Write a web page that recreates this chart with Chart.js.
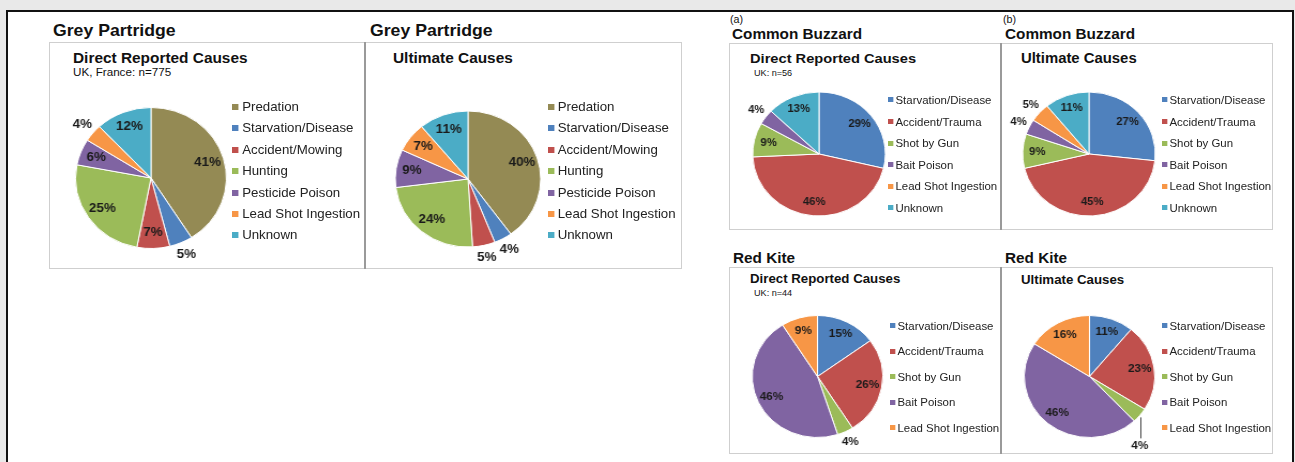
<!DOCTYPE html>
<html>
<head>
<meta charset="utf-8">
<script src="https://cdn.jsdelivr.net/npm/chart.js@4.4.1/dist/chart.umd.min.js"></script>
<style>
  body { margin: 0; width: 1295px; height: 462px; overflow: hidden; position: relative;
         background: #e9e9e9; font-family: "Liberation Sans", Arial, sans-serif; }
  #sheet { position: absolute; left: 6px; top: 10px; width: 1284px; height: 470px;
           background: #fff; border: 2px solid #111; }
  .box { position: absolute; border: 1px solid #cfcfcf; box-sizing: border-box; }
  .sep { position: absolute; width: 2px; background: #9a9a9a; }
  .t { position: absolute; line-height: 1; white-space: nowrap; color: #111;
       transform: scaleX(1.07); transform-origin: 0 0; }
  .row { position: absolute; display: flex; align-items: center; white-space: nowrap; color: #222;
         transform: scaleX(1.07); transform-origin: 0 50%; }
  .row i { display: inline-block; flex: none; }
  .pie { position: absolute; transform: scaleX(1.07); }
</style>
</head>
<body>
<div id="sheet"></div>
<div class="box" style="left:49px;top:42px;width:317px;height:227px"></div>
<div class="box" style="left:365px;top:42px;width:317px;height:227px"></div>
<div class="box" style="left:729px;top:43px;width:273px;height:187px"></div>
<div class="box" style="left:1001px;top:43px;width:272px;height:187px"></div>
<div class="box" style="left:729px;top:267px;width:273px;height:187px"></div>
<div class="box" style="left:1001px;top:267px;width:272px;height:187px"></div>
<div class="sep" style="left:364px;top:42px;height:227px"></div>
<div class="sep" style="left:1000px;top:43px;height:187px"></div>
<div class="sep" style="left:1000px;top:267px;height:187px"></div>

<script>
// Grey Partridge
const partridgeLabels = ['Predation', 'Starvation/Disease', 'Accident/Mowing', 'Hunting',
                         'Pesticide Poison', 'Lead Shot Ingestion', 'Unknown'];
const partridgeDirect = [41, 5, 7, 25, 6, 4, 12];
const partridgeUltimate = [40, 4, 5, 24, 9, 7, 11];

// Common Buzzard
const buzzardLabels = ['Starvation/Disease', 'Accident/Trauma', 'Shot by Gun', 'Bait Poison',
                       'Lead Shot Ingestion', 'Unknown'];
const buzzardDirect = [29, 46, 9, 4, 0, 13];
const buzzardUltimate = [27, 45, 9, 4, 5, 11];

// Red Kite
const kiteLabels = ['Starvation/Disease', 'Accident/Trauma', 'Shot by Gun', 'Bait Poison',
                    'Lead Shot Ingestion'];
const kiteDirect = [15, 26, 4, 46, 9];
const kiteUltimate = [11, 23, 4, 46, 16];

const partridgeColors = ['#948a54', '#4f81bd', '#c0504d', '#9bbb59', '#8064a2', '#f79646', '#4bacc6'];
const raptorColors = ['#4f81bd', '#c0504d', '#9bbb59', '#8064a2', '#f79646', '#4bacc6'];

const FONT = '"Liberation Sans", Arial, sans-serif';

// text placed by its baseline
function txt(s, x, base, size, bold) {
  const d = document.createElement('div');
  d.className = 't';
  d.textContent = s;
  d.style.left = x + 'px';
  d.style.top = (base - 0.8465 * size) + 'px';
  d.style.fontSize = size + 'px';
  if (bold) d.style.fontWeight = 'bold';
  document.body.appendChild(d);
}

function legend(labels, colors, x, y0, step, size, sq, gap) {
  labels.forEach((lab, i) => {
    const r = document.createElement('div');
    r.className = 'row';
    r.style.left = x + 'px';
    r.style.top = (y0 + i * step - size * 0.6) + 'px';
    r.style.height = (size * 1.2) + 'px';
    r.style.fontSize = size + 'px';
    r.innerHTML = '<i style="width:' + sq + 'px;height:' + sq + 'px;margin-right:' + gap +
                  'px;background:' + colors[i] + '"></i>';
    r.appendChild(document.createTextNode(lab));
    document.body.appendChild(r);
  });
}

// percentage labels, small slices go outside
const pieLabels = {
  id: 'pieLabels',
  afterDatasetsDraw(chart, args, opts) {
    const ctx = chart.ctx;
    const data = chart.data.datasets[0].data;
    chart.getDatasetMeta(0).data.forEach((arc, i) => {
      const v = data[i];
      if (!v) return;
      const p = arc.getProps(['x', 'y', 'startAngle', 'endAngle', 'outerRadius']);
      const mid = (p.startAngle + p.endAngle) / 2;
      const r = p.outerRadius;
      ctx.save();
      ctx.font = 'bold ' + opts.size + 'px ' + FONT;
      ctx.fillStyle = '#1a1a1a';
      ctx.textAlign = 'center';
      ctx.textBaseline = 'middle';
      if (i === opts.leader) {
        const ex = p.x + Math.cos(mid) * r, ey = p.y + Math.sin(mid) * r;
        ctx.strokeStyle = '#444';
        ctx.lineWidth = 1;
        ctx.beginPath();
        ctx.moveTo(Math.round(ex) + 0.5, ey + 2);
        ctx.lineTo(Math.round(ex) + 0.5, ey + 23);
        ctx.stroke();
        ctx.fillText(v + '%', ex, ey + 31);
      } else {
        const f = v <= 5 ? 1.18 : 0.78;
        ctx.fillText(v + '%', p.x + Math.cos(mid) * r * f, p.y + Math.sin(mid) * r * f);
      }
      ctx.restore();
    });
  }
};

function pie(labels, values, colors, cx, cy, r, size, leader) {
  const S = Math.round(r * 3);
  const wrap = document.createElement('div');
  wrap.className = 'pie';
  wrap.style.left = (cx - S / 2) + 'px';
  wrap.style.top = (cy - S / 2) + 'px';
  wrap.style.width = S + 'px';
  wrap.style.height = S + 'px';
  const cv = document.createElement('canvas');
  cv.width = S;
  cv.height = S;
  wrap.appendChild(cv);
  document.body.appendChild(wrap);
  new Chart(cv, {
    type: 'pie',
    data: {
      labels: labels,
      datasets: [{ data: values, backgroundColor: colors, borderColor: '#fff', borderWidth: 1 }]
    },
    options: {
      responsive: false,
      animation: false,
      events: [],
      radius: r,
      plugins: {
        legend: { display: false },
        tooltip: { enabled: false },
        pieLabels: { size: size, leader: leader }
      }
    },
    plugins: [pieLabels]
  });
}

// headings
txt('Grey Partridge', 53, 36, 16.5, true);
txt('Grey Partridge', 370, 36, 16.5, true);
txt('Direct Reported Causes', 73, 63, 14.4, true);
txt('UK, France: n=775', 73, 76, 10.9, false);
txt('Ultimate Causes', 393, 63, 14.4, true);

txt('(a)', 730, 23, 10, false);
txt('(b)', 1003, 23, 10, false);
txt('Common Buzzard', 732, 39, 14.3, true);
txt('Common Buzzard', 1005, 39, 14.3, true);
txt('Direct Reported Causes', 750, 64, 13.7, true);
txt('UK: n=56', 754, 76, 8.5, false);
txt('Ultimate Causes', 1021, 64, 13.9, true);

txt('Red Kite', 733, 263, 14.3, true);
txt('Red Kite', 1005, 263, 14.3, true);
txt('Direct Reported Causes', 750, 283, 12.4, true);
txt('UK: n=44', 754, 296, 8.5, false);
txt('Ultimate Causes', 1021, 284, 12.4, true);

// pies
pie(partridgeLabels, partridgeDirect, partridgeColors, 151, 178, 70.5, 12.5, -1);
pie(partridgeLabels, partridgeUltimate, partridgeColors, 467.5, 179, 68, 12.5, -1);
pie(buzzardLabels, buzzardDirect, raptorColors, 818.5, 154, 62, 10.5, -1);
pie(buzzardLabels, buzzardUltimate, raptorColors, 1089, 154, 62, 10.5, -1);
pie(kiteLabels, kiteDirect, raptorColors, 817.5, 376, 61, 11, -1);
pie(kiteLabels, kiteUltimate, raptorColors, 1089, 376.5, 61, 11, 2);

// legends
legend(partridgeLabels, partridgeColors, 232, 107, 21.4, 12.4, 6, 3.5);
legend(partridgeLabels, partridgeColors, 548, 107, 21.4, 12.4, 6, 3);
legend(buzzardLabels, raptorColors, 888, 100, 21.6, 10.7, 5, 2);
legend(buzzardLabels, raptorColors, 1162, 100, 21.6, 10.7, 5, 2);
legend(kiteLabels, raptorColors, 890, 326, 25.5, 10.7, 5, 2);
legend(kiteLabels, raptorColors, 1162, 326, 25.5, 10.7, 5, 2);
</script>
</body>
</html>
